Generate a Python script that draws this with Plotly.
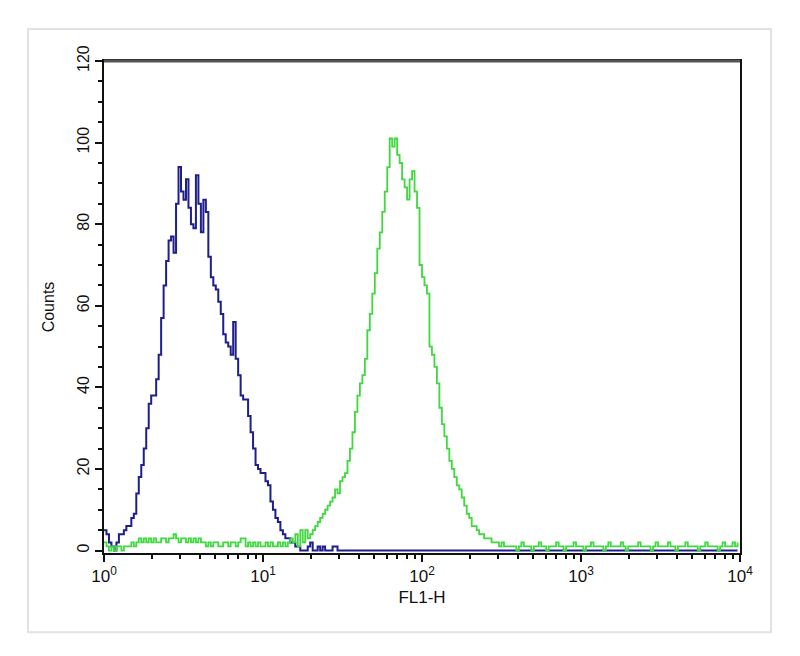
import numpy as np
import plotly.graph_objects as go

# FL1-H channel histograms (256 channels over 4 decades)
blue_counts = [
    5, 4, 2, 1, 0, 2, 4, 4, 5, 6,
    6, 8, 9, 14, 18, 21, 25, 30, 36, 38,
    38, 42, 48, 57, 65, 71, 76, 77, 73, 85,
    94, 88, 86, 91, 84, 80, 79, 92, 85, 78,
    86, 83, 72, 67, 65, 64, 61, 58, 53, 51,
    50, 48, 56, 47, 43, 38, 37, 37, 33, 29,
    25, 21, 20, 19, 19, 17, 16, 12, 10, 8,
    7, 5, 4, 3, 3, 2, 2, 1, 1, 0, 0,
    0, 1, 2, 0, 0, 1, 0, 1, 0, 0, 0, 1, 1, 0, 0, 0, 0, 0, 0, 0,
    0, 0, 0, 0, 0, 0, 0, 0, 0, 0, 0, 0, 0, 0, 0, 0, 0, 0, 0, 0,
    0, 0, 0, 0, 0, 0, 0, 0, 0, 0, 0, 0, 0, 0, 0, 0, 0, 0, 0, 0,
    0, 0, 0, 0, 0, 0, 0, 0, 0, 0, 0, 0, 0, 0, 0, 0, 0, 0, 0, 0,
    0, 0, 0, 0, 0, 0, 0, 0, 0, 0, 0, 0, 0, 0, 0, 0, 0, 0, 0, 0,
    0, 0, 0, 0, 0, 0, 0, 0, 0, 0, 0, 0, 0, 0, 0, 0, 0, 0, 0, 0,
    0, 0, 0, 0, 0, 0, 0, 0, 0, 0, 0, 0, 0, 0, 0, 0, 0, 0, 0, 0,
    0, 0, 0, 0, 0, 0, 0, 0, 0, 0, 0, 0, 0, 0, 0, 0, 0, 0, 0, 0,
    0, 0, 0, 0, 0, 0, 0, 0, 0, 0, 0, 0, 0, 0, 0,
]

green_counts = [
    2, 1, 0, 1, 0, 1, 1, 0, 1, 1,
    1, 2, 1, 2, 3, 2, 3, 2, 3, 2,
    3, 2, 2, 3, 3, 2, 3, 3, 4, 3,
    2, 3, 3, 2, 3, 2, 3, 2, 3, 2,
    2, 1, 2, 1, 2, 2, 1, 1, 2, 2,
    1, 2, 2, 1, 2, 3, 3, 1, 2, 1,
    2, 1, 2, 1, 1, 2, 1, 2, 1, 1,
    2, 1, 2, 1, 2, 3,
    2, 4, 1, 5, 2, 5, 3, 4, 5, 6,
    7, 8, 9, 10, 11, 12, 13, 15, 14, 17,
    18, 19, 22, 25, 29, 34, 38, 41, 43, 47,
    54, 58, 63, 68, 74, 78, 83, 88, 94, 101,
    99, 101, 97, 95, 91, 89, 86, 91, 93, 88,
    84, 70, 67, 65, 63, 50, 48, 45, 41, 35,
    31, 28, 25, 22, 20, 18, 16, 15, 13, 11,
    9, 8, 6, 6, 5, 4, 4, 3, 3, 3,
    2, 2, 2, 1, 2, 1, 1, 1,
    1, 1, 0, 1, 2, 1, 1, 1, 0, 1,
    1, 2, 1, 1, 0, 1, 1, 1, 2, 1,
    1, 0, 1, 1, 1, 2, 1, 1, 1, 0,
    1, 1, 2, 1, 1, 1, 1, 0, 1, 2,
    1, 1, 1, 1, 2, 1, 0, 1, 1, 1,
    1, 2, 1, 1, 1, 1, 0, 1, 2, 1,
    1, 1, 1, 2, 1, 1, 0, 1, 1, 1,
    2, 1, 1, 1, 1, 0, 1, 1, 2, 1,
    1, 1, 1, 0, 1, 2, 1, 1, 1, 2,
    1, 2,
]

CHANNELS_PER_DECADE = 64
x_tick_vals = [1, 10, 100, 1000, 10000]
x_tick_text = ["10<sup>0</sup>", "10<sup>1</sup>", "10<sup>2</sup>", "10<sup>3</sup>", "10<sup>4</sup>"]
x_minor_vals = [m * d for d in [1, 10, 100, 1000] for m in range(2, 10)]
y_tick_vals = [0, 20, 40, 60, 80, 100, 120]
y_minor_vals = list(range(5, 120, 5))


def channel_x(n):
    return [10 ** (c / CHANNELS_PER_DECADE) for c in range(n)]


fig = go.Figure()
fig.add_trace(go.Scatter(x=channel_x(len(blue_counts)), y=blue_counts, mode="lines",
                         line=dict(color="#1e1e8c", width=2, shape="hv"), showlegend=False))
fig.add_trace(go.Scatter(x=channel_x(len(green_counts)), y=green_counts, mode="lines",
                         line=dict(color="#3fd83f", width=1.8, shape="hv"), showlegend=False))

font_family = "Liberation Sans, Arial, sans-serif"

fig.update_layout(
    width=800, height=656,
    margin=dict(l=96, r=68, t=53, b=111),
    paper_bgcolor="white", plot_bgcolor="white",
    font=dict(family=font_family, color="#111111", size=14),
    xaxis=dict(
        type="log", range=[0, 4],
        tickvals=x_tick_vals, ticktext=x_tick_text,
        ticks="outside", ticklen=7, tickwidth=2, tickcolor="#111",
        minor=dict(tickvals=x_minor_vals, ticks="outside", ticklen=4, tickwidth=2, tickcolor="#111"),
        showline=True, linecolor="#111", linewidth=2, mirror=True,
        showgrid=False, zeroline=False,
        tickfont=dict(size=17, family=font_family, color="#111"),
        title=dict(text="FL1-H", font=dict(size=17, family=font_family, color="#111"), standoff=6),
    ),
    yaxis=dict(
        range=[-0.6, 120],
        tickvals=y_tick_vals, tickangle=-90,
        ticks="outside", ticklen=7, tickwidth=2, tickcolor="#111",
        minor=dict(tickvals=y_minor_vals, ticks="outside", ticklen=4, tickwidth=2, tickcolor="#111"),
        showline=True, linecolor="#111", linewidth=2, mirror=True,
        showgrid=False, zeroline=False,
        tickfont=dict(size=16, family=font_family, color="#111"),
        title=dict(text="Counts", font=dict(size=16, family=font_family, color="#111"), standoff=16),
    ),
    shapes=[
        dict(type="rect", xref="paper", yref="paper",
             x0=-0.1195, x1=1.0487, y0=-0.1609, y1=1.0652,
             line=dict(color="#e2e2e2", width=2), fillcolor="rgba(0,0,0,0)", layer="below"),
        dict(type="line", xref="paper", yref="paper", x0=0, x1=1, y0=1, y1=1,
             line=dict(color="#555555", width=3)),
    ],
)

fig.write_html("out.html")
